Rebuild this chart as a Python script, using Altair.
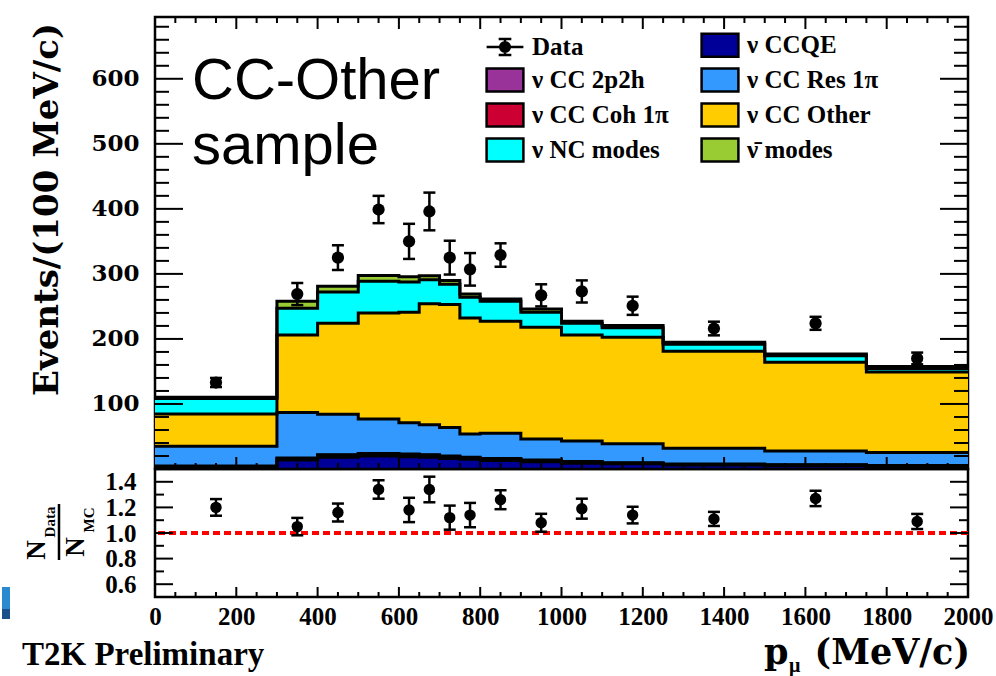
import altair as alt
import numpy as np
import pandas as pd

# ---- binning of the muon momentum histogram (MeV/c) ----
bin_lo = [0, 300, 400, 500, 600, 650, 700, 750, 800, 900, 1000, 1100, 1250, 1500, 1750]
bin_hi = [300, 400, 500, 600, 650, 700, 750, 800, 900, 1000, 1100, 1250, 1500, 1750, 2000]

# ---- MC prediction per interaction mode, events / (100 MeV/c) ----
mc_ccqe = [3.0, 14, 18, 20, 19, 18, 16, 15, 13, 11, 9, 8, 6, 5, 4]
mc_2p2h = [1.0, 2, 3, 3, 3, 3, 3, 2, 2, 2, 2, 1, 1, 1, 1]
mc_coh = [0.5, 1, 1, 1, 1, 1, 1, 1, 1, 1, 0.5, 0.5, 0.5, 0.5, 0.5]
mc_res = [30.5, 70, 62, 53, 48, 46, 44, 36, 39, 32, 31.5, 29.5, 24.5, 21, 20]
mc_other = [49.5, 119, 140, 163, 170, 186, 189, 178, 172, 172, 163, 163.5, 149, 136.5, 123.5]
mc_nc = [24, 41, 48, 48.5, 46.5, 37, 31, 32, 31, 23, 18, 14.5, 11, 10, 5.5]
mc_nubar = [2, 11, 9, 9, 8, 6, 6, 5, 3.5, 5, 3, 3.6, 3, 3, 3]

# ---- data and data/MC ratio ----
data_val = [133, 269, 325, 399, 350, 396, 325, 307, 329, 267, 273, 251, 216, 224, 170]
data_err = [7, 17, 19, 21, 27, 29, 26, 25, 18, 17, 17, 14, 10.5, 10, 9]
ratio_val = [1.20, 1.05, 1.16, 1.34, 1.18, 1.34, 1.12, 1.14, 1.26, 1.08, 1.19, 1.14, 1.11, 1.27, 1.09]
ratio_err = [0.065, 0.068, 0.07, 0.072, 0.095, 0.10, 0.094, 0.095, 0.074, 0.07, 0.078, 0.065, 0.055, 0.06, 0.059]

# ---- legend entries, filled column by column (4 rows x 2 columns) ----
legend_names = ["Data", "ν CC 2p2h", "ν CC Coh 1π", "ν NC modes",
                "ν CCQE", "ν CC Res 1π", "ν CC Other", "ν\u0304 modes"]
legend_colors = ["#000000", "#993399", "#CC0033", "#00FFFF",
                 "#000099", "#3399FF", "#FFCC00", "#99CC33"]

# stacking order, bottom to top
stack = [("ν CCQE", mc_ccqe), ("ν CC 2p2h", mc_2p2h), ("ν CC Coh 1π", mc_coh),
         ("ν CC Res 1π", mc_res), ("ν CC Other", mc_other),
         ("ν NC modes", mc_nc), ("ν\u0304 modes", mc_nubar)]

W, H_TOP, H_BOT = 813, 452, 128
SERIF = "Liberation Serif"
WIDE_SERIF = "DejaVu Serif"

x_scale = alt.Scale(domain=[0, 2000], nice=False, zero=False)
y_top = alt.Scale(domain=[0, 695], nice=False, zero=False)
y_bot = alt.Scale(domain=[0.5, 1.5], nice=False, zero=False)

# ---- axes (one definition per panel, shared by every layer) ----
Y_AX_TOP = alt.Axis(
    values=[100, 200, 300, 400, 500, 600], ticks=False, domain=False, grid=False,
    labelFont=WIDE_SERIF, labelFontWeight="bold", labelFontSize=23, labelColor="black",
    labelPadding=16, labelOverlap=False, title="Events/(100 MeV/c)", titleFont=WIDE_SERIF,
    titleFontWeight="bold", titleFontSize=34, titleColor="black",
    titleAngle=270, titleX=-98, titleY=192, titleAlign="center",
    titleBaseline="alphabetic")
Y_AX_BOT = alt.Axis(
    values=[0.6, 0.8, 1.0, 1.2, 1.4], format=".1f", ticks=False, domain=False, grid=False,
    labelFont=SERIF, labelFontWeight="bold", labelFontSize=25, labelColor="black",
    labelPadding=19, labelOverlap=False, title=None)
X_AX_BOT = alt.Axis(
    values=list(range(0, 2001, 200)), format="d", ticks=False, domain=False, grid=False,
    labelFont=SERIF, labelFontWeight="bold", labelFontSize=25, labelColor="black",
    labelPadding=7, labelFlush=False, labelOverlap=False, title=None)

# ---- stacked histogram tables ----
band_rows, step_rows = [], []
cum = np.zeros(len(bin_lo))
edges = bin_lo + [bin_hi[-1]]
for level, (name, vals) in enumerate(stack):
    lower = cum.copy()
    cum = cum + np.asarray(vals, dtype=float)
    for i, xe in enumerate(edges):
        j = min(i, len(bin_lo) - 1)
        band_rows.append(dict(series=name, x=xe, y=lower[j], y2=cum[j]))
        step_rows.append(dict(level=level, x=xe, y=cum[j]))
band_df = pd.DataFrame(band_rows)
step_df = pd.DataFrame(step_rows)

centers = [(a + b) / 2 for a, b in zip(bin_lo, bin_hi)]
data_df = pd.DataFrame({"xc": centers, "val": data_val,
                        "lo": np.subtract(data_val, data_err),
                        "hi": np.add(data_val, data_err)})
ratio_df = pd.DataFrame({"xc": centers, "val": ratio_val,
                         "lo": np.subtract(ratio_val, ratio_err),
                         "hi": np.add(ratio_val, ratio_err)})

# ---- legend symbols: outlined box for MC modes, marker with error bar for data ----
box_path = "M-1.6,-1H1.6V1H-1.6Z"
data_path = ("M-1.6,0H1.6M0,-0.7V0.7M-0.55,-0.7H0.55M-0.55,0.7H0.55"
             "M0.42,0A0.42,0.42 0 1,1 -0.42,0A0.42,0.42 0 1,1 0.42,0Z")
color_scale = alt.Scale(domain=legend_names, range=legend_colors)
shape_scale = alt.Scale(domain=legend_names, range=[data_path] + [box_path] * 7)
leg = alt.Legend(title=None, orient="none", legendX=337, legendY=15, columns=2,
                 columnPadding=27, rowPadding=1, labelFont=SERIF, labelFontWeight="bold",
                 labelFontSize=25, labelColor="black", labelOffset=14, labelLimit=0,
                 symbolSize=529, symbolStrokeWidth=2.5, symbolOpacity=1, padding=0)


def y_ticks(values, scale, axis, length):
    df = pd.DataFrame({"v": values})
    base = alt.Chart(df).mark_rule(color="black", strokeWidth=2)
    left = base.encode(y=alt.Y("v:Q", scale=scale, axis=axis), x=alt.value(0), x2=alt.value(length))
    right = base.encode(y=alt.Y("v:Q", scale=scale, axis=axis), x=alt.value(W - length), x2=alt.value(W))
    return [left, right]


def x_ticks(values, axis, length, height, top=True):
    df = pd.DataFrame({"v": values})
    base = alt.Chart(df).mark_rule(color="black", strokeWidth=2)
    out = [base.encode(x=alt.X("v:Q", scale=x_scale, axis=axis),
                       y=alt.value(height - length), y2=alt.value(height))]
    if top:
        out.append(base.encode(x=alt.X("v:Q", scale=x_scale, axis=axis),
                               y=alt.value(0), y2=alt.value(length)))
    return out


def data_layers(df, yscale, xaxis, yaxis, size):
    xx = alt.X("xc:Q", scale=x_scale, axis=xaxis)
    bars = alt.Chart(df).mark_rule(color="black", strokeWidth=2.5).encode(
        x=xx, y=alt.Y("lo:Q", scale=yscale, axis=yaxis), y2="hi:Q")
    tick = dict(orient="horizontal", size=12, thickness=2.5, color="black", opacity=1)
    cap_lo = alt.Chart(df).mark_tick(**tick).encode(
        x=xx, y=alt.Y("lo:Q", scale=yscale, axis=yaxis))
    cap_hi = alt.Chart(df).mark_tick(**tick).encode(
        x=xx, y=alt.Y("hi:Q", scale=yscale, axis=yaxis))
    pts = alt.Chart(df).mark_circle(size=size, color="black", opacity=1).encode(
        x=xx, y=alt.Y("val:Q", scale=yscale, axis=yaxis))
    return [bars, cap_lo, cap_hi, pts]


x_major = list(range(200, 2000, 200))
x_minor = [v for v in range(50, 2000, 50) if v % 200]
one = pd.DataFrame({"t": [""]})

# ================= upper panel =================
bands = alt.Chart(band_df).mark_area(interpolate="step-after").encode(
    x=alt.X("x:Q", scale=x_scale, axis=None),
    y=alt.Y("y:Q", scale=y_top, axis=Y_AX_TOP),
    y2="y2:Q",
    fill=alt.Fill("series:N", scale=alt.Scale(domain=legend_names, range=legend_colors),
                  legend=None),
)

steps = alt.Chart(step_df).mark_line(interpolate="step-after", color="black", strokeWidth=3).encode(
    x=alt.X("x:Q", scale=x_scale, axis=None),
    y=alt.Y("y:Q", scale=y_top, axis=Y_AX_TOP),
    detail="level:N",
)

# carries the legend only (no rows reach the plot)
legend_layer = alt.Chart(band_df).mark_point(filled=True, opacity=1, strokeWidth=2.5).encode(
    color=alt.Color("series:N", scale=color_scale, legend=leg),
    shape=alt.Shape("series:N", scale=shape_scale, legend=leg),
    stroke=alt.value("black"),
).transform_filter("false")

label_font = dict(font="Liberation Sans", fontSize=58, color="black", align="left",
                  baseline="alphabetic")
cc_text = alt.Chart(one).mark_text(text="CC-Other", **label_font).encode(
    x=alt.value(37), y=alt.value(82))
sample_text = alt.Chart(one).mark_text(text="sample", **label_font).encode(
    x=alt.value(37), y=alt.value(147))

top_layers = ([bands, steps]
              + y_ticks([100, 200, 300, 400, 500, 600], y_top, Y_AX_TOP, 28)
              + y_ticks([v for v in range(20, 695, 20) if v % 100], y_top, Y_AX_TOP, 14)
              + x_ticks(x_major, None, 12, H_TOP) + x_ticks(x_minor, None, 6, H_TOP)
              + data_layers(data_df, y_top, None, Y_AX_TOP, 150)
              + [legend_layer, cc_text, sample_text])
top = alt.layer(*top_layers).properties(width=W, height=H_TOP)

# ================= lower panel =================
unity = alt.Chart(pd.DataFrame({"v": [1.0]})).mark_rule(
    color="#FF0000", strokeWidth=4, strokeDash=[7, 4]).encode(
    y=alt.Y("v:Q", scale=y_bot, axis=Y_AX_BOT))

serif_bold = dict(font=SERIF, fontWeight="bold", color="black")
rot = dict(angle=270, align="center", baseline="alphabetic", **serif_bold)
ratio_title = [
    alt.Chart(one).mark_text(text="N", fontSize=27, **rot).encode(x=alt.value(-110), y=alt.value(81)),
    alt.Chart(one).mark_text(text="Data", fontSize=15, **rot).encode(x=alt.value(-100), y=alt.value(53)),
    alt.Chart(one).mark_text(text="N", fontSize=27, **rot).encode(x=alt.value(-71), y=alt.value(78)),
    alt.Chart(one).mark_text(text="MC", fontSize=15, **rot).encode(x=alt.value(-61), y=alt.value(51)),
    alt.Chart(one).mark_rule(color="black", strokeWidth=2.5).encode(
        x=alt.value(-96), y=alt.value(35), y2=alt.value(91)),
]

flat = dict(baseline="alphabetic", color="black", fontWeight="bold")
x_title = [
    alt.Chart(one).mark_text(text="p", font=WIDE_SERIF, fontSize=35, align="left", **flat).encode(
        x=alt.value(609), y=alt.value(195)),
    alt.Chart(one).mark_text(text="μ", font=SERIF, fontSize=20, align="left", **flat).encode(
        x=alt.value(634), y=alt.value(203)),
    alt.Chart(one).mark_text(text="(MeV/c)", font=WIDE_SERIF, fontSize=35, align="right", **flat).encode(
        x=alt.value(815), y=alt.value(195)),
    alt.Chart(one).mark_text(text="T2K Preliminary", font=SERIF, fontSize=33, align="left", **flat).encode(
        x=alt.value(-133), y=alt.value(196)),
]

tab = [
    alt.Chart(one).mark_rect(color="#2a8ad0").encode(
        x=alt.value(-153), x2=alt.value(-145), y=alt.value(118), y2=alt.value(140)),
    alt.Chart(one).mark_rect(color="#1a4f8a").encode(
        x=alt.value(-153), x2=alt.value(-145), y=alt.value(140), y2=alt.value(150)),
]

bot_layers = ([unity]
              + y_ticks([0.6, 0.8, 1.0, 1.2, 1.4], y_bot, Y_AX_BOT, 18)
              + y_ticks([0.7, 0.9, 1.1, 1.3], y_bot, Y_AX_BOT, 9)
              + x_ticks(x_major, X_AX_BOT, 10, H_BOT, top=False)
              + x_ticks(x_minor, X_AX_BOT, 5, H_BOT, top=False)
              + data_layers(ratio_df, y_bot, X_AX_BOT, Y_AX_BOT, 130)
              + ratio_title + x_title + tab)
bottom = alt.layer(*bot_layers).properties(width=W, height=H_BOT)

chart = (
    alt.vconcat(top, bottom, spacing=0, bounds="flush")
    .resolve_legend(color="independent", shape="independent")
    .properties(padding={"left": 0, "top": 14, "right": 0, "bottom": 0}, background="white")
    .configure_view(stroke="black", strokeWidth=2.5)
)

chart.save("out.html", embed_options={"renderer": "svg", "actions": False})
